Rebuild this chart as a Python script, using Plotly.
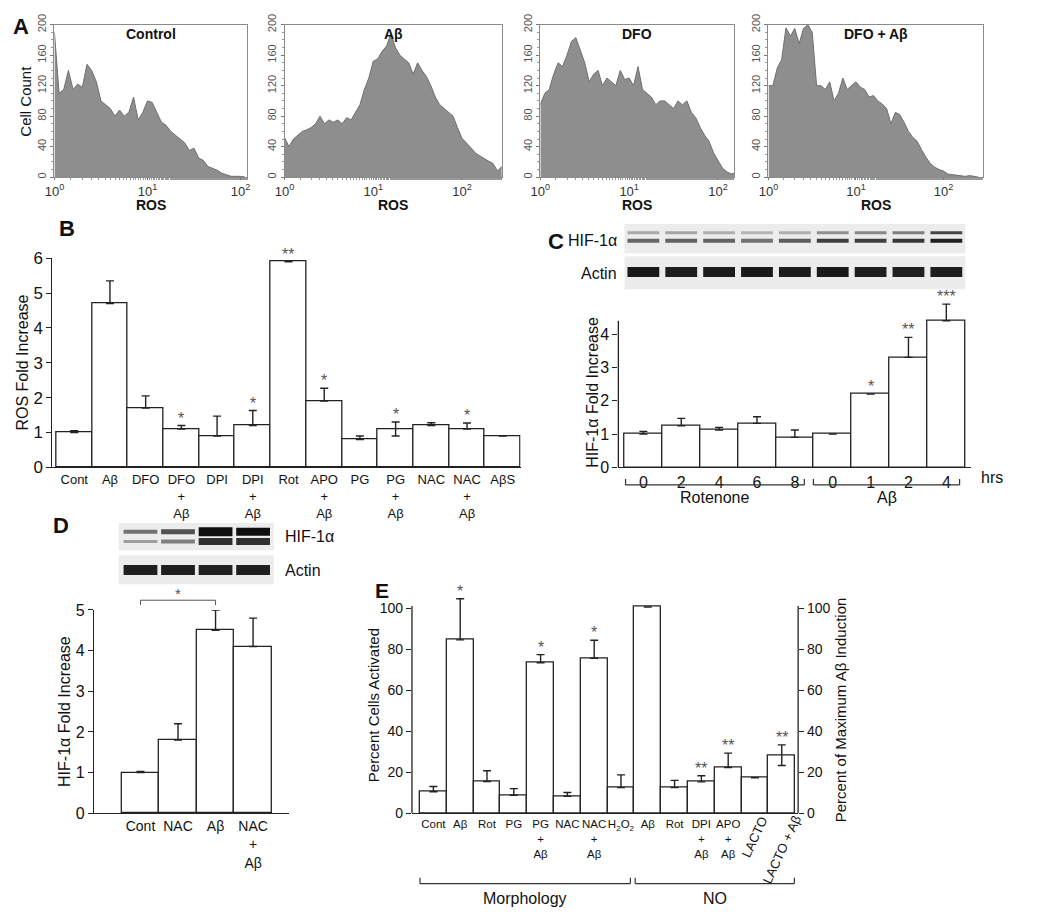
import numpy as np
import plotly.graph_objects as go

# ---------------- DATA ----------------
# Panel A: flow cytometry histograms (cell count per log-channel, channel step 0.05 decade)
A_STEP = 0.05
A_titles = ["Control", "Aβ", "DFO", "DFO + Aβ"]
A_control = [190, 110, 115, 140, 115, 122, 118, 148, 140, 125, 100, 95, 90, 80, 88, 80, 85, 105, 75, 85,
             100, 98, 85, 72, 68, 60, 55, 50, 45, 35, 38, 25, 22, 14, 12, 9, 5, 3, 1, 1, 1, 0]
A_abeta = [52, 40, 50, 55, 60, 62, 65, 70, 80, 70, 75, 72, 75, 70, 78, 75, 85, 95, 115, 130,
           152, 155, 165, 172, 188, 170, 160, 155, 150, 135, 150, 140, 132, 120, 105, 95, 90, 85, 80, 65,
           51, 45, 38, 32, 28, 24, 21, 18, 8, 14]
A_dfo = [95, 110, 115, 135, 150, 145, 160, 178, 183, 165, 150, 125, 135, 140, 120, 130, 125, 120, 140, 128,
         130, 120, 145, 115, 110, 105, 95, 100, 100, 95, 90, 100, 95, 100, 85, 78, 65, 55, 47, 32,
         21, 12, 7, 4, 6]
A_dfo_abeta = [120, 120, 143, 154, 196, 185, 195, 175, 195, 200, 190, 120, 120, 115, 125, 100, 110, 130, 115, 120,
               125, 118, 115, 105, 107, 100, 96, 90, 70, 85, 82, 72, 60, 52, 47, 36, 26, 18, 13, 10,
               8, 4, 3, 2, 2, 1, 2, 1, 0]
A_xmax = [2.07, 2.45, 2.18, 2.45]          # log10 upper limit of each histogram axis
A_yticks = [0, 40, 80, 120, 160, 200]

# Panel B: ROS fold increase
B_labels = ["Cont", "Aβ", "DFO", "DFO<br>+<br>Aβ", "DPI", "DPI<br>+<br>Aβ", "Rot", "APO<br>+<br>Aβ",
            "PG", "PG<br>+<br>Aβ", "NAC", "NAC<br>+<br>Aβ", "AβS"]
B_vals = [1.0, 4.7, 1.7, 1.1, 0.9, 1.2, 5.9, 1.9, 0.8, 1.1, 1.2, 1.1, 0.9]
B_err_up = [0.05, 0.65, 0.35, 0.1, 0.57, 0.43, 0, 0.37, 0.1, 0.2, 0.08, 0.17, 0]
B_err_dn = [0, 0, 0, 0, 0, 0, 0, 0, 0, 0.2, 0, 0, 0]
B_stars = ["", "", "", "*", "", "*", "**", "*", "", "*", "", "*", ""]

# Panel C: HIF-1a fold increase (time course)
C_labels = ["0", "2", "4", "6", "8", "0", "1", "2", "4"]
C_vals = [1.0, 1.25, 1.12, 1.32, 0.9, 1.0, 2.2, 3.3, 4.4]
C_err = [0.08, 0.22, 0.08, 0.2, 0.22, 0, 0, 0.6, 0.5]
C_stars = ["", "", "", "", "", "", "*", "**", "***"]
C_groups = ["Rotenone", "Aβ"]
C_hif_upper = [0.3, 0.32, 0.28, 0.25, 0.28, 0.42, 0.45, 0.5, 0.75]
C_hif_lower = [0.6, 0.62, 0.62, 0.55, 0.65, 0.78, 0.78, 0.82, 0.92]
C_actin = [0.95, 0.93, 0.94, 0.95, 0.94, 0.95, 0.93, 0.92, 0.93]

# Panel D: HIF-1a fold increase with NAC
D_labels = ["Cont", "NAC", "Aβ", "NAC<br>+<br>Aβ"]
D_vals = [1.0, 1.8, 4.5, 4.1]
D_err = [0.03, 0.4, 0.5, 0.7]
D_hif_upper = [0.55, 0.7, 1.0, 1.0]
D_hif_upper_w = [4, 5, 9, 8]
D_hif_lower = [0.35, 0.5, 0.85, 0.85]
D_hif_lower_w = [3, 4, 7, 7]
D_actin = [0.93, 0.93, 0.92, 0.93]

# Panel E: microglial activation
E_labels = ["Cont", "Aβ", "Rot", "PG", "PG<br>+<br>Aβ", "NAC", "NAC<br>+<br>Aβ", "H<sub>2</sub>O<sub>2</sub>",
            "Aβ", "Rot", "DPI<br>+<br>Aβ", "APO<br>+<br>Aβ", "LACTO", "LACTO + Aβ"]
E_vals = [10.5, 84.5, 15.5, 8.8, 73.3, 8.3, 75.5, 12.5, 100.5, 12.5, 15.3, 22.3, 17.3, 28.3]
E_err_up = [2.5, 20, 5.2, 3.2, 4, 1.8, 8.8, 6.2, 0, 3.5, 3, 7, 0, 5]
E_err_dn = [0, 0, 0, 0, 0, 0, 0, 0, 0, 0, 0, 0, 0, 5]
E_stars = ["", "*", "", "", "*", "", "*", "", "", "", "**", "**", "", "**"]
E_groups = ["Morphology", "NO"]

# ---------------- LAYOUT HELPERS ----------------
W, H = 1050, 919
FONT = "Liberation Sans, Arial, sans-serif"


def PX(x):
    return x / W


def PY(y):
    return 1 - y / H


fig = go.Figure()
layout = {}
ann = []
shapes = []


def text(x, y, s, size=15, bold=False, xanchor="center", yanchor="middle", angle=0,
         xref="paper", yref="paper", color="#111", family=FONT):
    if bold:
        s = "<b>" + s + "</b>"
    ann.append(dict(x=x, y=y, text=s, xref=xref, yref=yref, showarrow=False, xanchor=xanchor,
                    yanchor=yanchor, textangle=angle, font=dict(size=size, color=color, family=family)))


def bar_axes(n, xpx, ypx, xr, yr, yticks, labels, tickfont_size, ytick_size, yline_top=None):
    """ypx = (pixel of top of domain, pixel of bottom). yline_top: data value where y-axis line stops."""
    layout[f"xaxis{n}"] = dict(domain=[PX(xpx[0]), PX(xpx[1])], anchor=f"y{n}", range=xr,
                               tickvals=list(range(len(labels))), ticktext=labels, tickangle=0, showline=True,
                               linecolor="#222", linewidth=1.3, ticks="", showgrid=False, zeroline=False,
                               tickfont=dict(family=FONT, size=tickfont_size, color="#111"), fixedrange=True)
    layout[f"yaxis{n}"] = dict(domain=[PY(ypx[1]), PY(ypx[0])], anchor=f"x{n}", range=yr, tickvals=yticks,
                               showline=yline_top is None, linecolor="#222", linewidth=1.3, ticks="outside",
                               ticklen=5, tickcolor="#222", showgrid=False, zeroline=False,
                               tickfont=dict(family=FONT, size=ytick_size, color="#111"), fixedrange=True)
    if yline_top is not None:
        shapes.append(dict(type="line", xref=f"x{n} domain", yref=f"y{n}", x0=0, x1=0, y0=0, y1=yline_top,
                           line=dict(color="#222", width=1.3)))


def add_bars(n, vals, up, dn):
    fig.add_trace(go.Bar(x=list(range(len(vals))), y=vals, width=1.0, xaxis=f"x{n}", yaxis=f"y{n}",
                         marker=dict(color="white", line=dict(color="#222", width=1.3)),
                         error_y=dict(type="data", symmetric=False, array=up, arrayminus=dn,
                                      color="#222", thickness=1.4, width=4),
                         cliponaxis=False, showlegend=False, hoverinfo="skip"))


def add_stars(n, vals, up, stars, size=16):
    for i, s in enumerate(stars):
        if s:
            ann.append(dict(x=i, y=vals[i] + up[i], xref=f"x{n}", yref=f"y{n}", text=s, showarrow=False,
                            yanchor="bottom", yshift=-3, font=dict(size=size, color="#555", family=FONT)))


def add_blot(n, lanes, bands, half=0.4):
    for y, inten, widths in bands:
        for i, v in enumerate(inten):
            fig.add_trace(go.Scatter(x=[lanes[i] - half, lanes[i] + half], y=[y, y], mode="lines",
                                     line=dict(color=f"rgba(15,15,15,{v})", width=widths[i]),
                                     xaxis=f"x{n}", yaxis=f"y{n}", showlegend=False, hoverinfo="skip"))


def bracket(xref, x0, x1, ypx, tick=6):
    shapes.append(dict(type="line", xref=xref, yref="paper", x0=x0, x1=x1, y0=PY(ypx), y1=PY(ypx),
                       line=dict(color="#333", width=1.2)))
    for xx in (x0, x1):
        shapes.append(dict(type="line", xref=xref, yref="paper", x0=xx, x1=xx, y0=PY(ypx), y1=PY(ypx - tick),
                           line=dict(color="#333", width=1.2)))


# ---------------- PANEL A ----------------
A_data = [A_control, A_abeta, A_dfo, A_dfo_abeta]
A_xpx = [(45, 240), (278, 498), (537, 733), (768, 985)]
for k in range(4):
    n = k + 1
    counts = A_data[k]
    xs = 10 ** (np.arange(len(counts)) * A_STEP)
    fig.add_trace(go.Scatter(x=xs, y=counts, mode="lines", fill="tozeroy", fillcolor="#8e8e8e",
                             line=dict(color="#6f6f6f", width=1), xaxis=f"x{n}", yaxis=f"y{n}",
                             showlegend=False, hoverinfo="skip"))
    layout[f"xaxis{n}"] = dict(domain=[PX(A_xpx[k][0]), PX(A_xpx[k][1])], anchor=f"y{n}", type="log",
                               range=[0, A_xmax[k]], tickvals=[1, 10, 100],
                               ticktext=["10<sup>0</sup>", "10<sup>1</sup>", "10<sup>2</sup>"],
                               showline=True, mirror=True, linecolor="#8a8a8a", linewidth=1,
                               ticks="outside", ticklen=2, tickcolor="#777",
                               minor=dict(ticks="outside", ticklen=2, tickcolor="#999", showgrid=False),
                               showgrid=False, zeroline=False,
                               tickfont=dict(family=FONT, size=13, color="#333"), fixedrange=True)
    layout[f"yaxis{n}"] = dict(domain=[PY(170), PY(14)], anchor=f"x{n}", range=[0, 200], tickvals=A_yticks,
                               tickangle=-90, showline=True, mirror=True, linecolor="#8a8a8a", linewidth=1,
                               ticks="outside", ticklen=3, tickcolor="#777",
                               minor=dict(dtick=10, ticks="outside", ticklen=2, tickcolor="#999", showgrid=False),
                               showgrid=False, zeroline=False,
                               tickfont=dict(family=FONT, size=11, color="#555"), fixedrange=True)
    cx = (A_xpx[k][0] + A_xpx[k][1]) / 2
    text(PX(cx), PY(24), A_titles[k], size=14, bold=True)
    text(PX(cx), PY(199), "ROS", size=14, bold=True)
text(PX(11), PY(16), "A", size=22, bold=True)
text(PX(16), PY(92), "Cell Count", size=15, angle=-90)

# ---------------- PANEL B ----------------
bar_axes(5, (43, 517), (253, 467), [-0.61, 12.5], [0, 6], [0, 1, 2, 3, 4, 5, 6], B_labels, 13, 17)
add_bars(5, B_vals, B_err_up, B_err_dn)
add_stars(5, B_vals, B_err_up, B_stars)
text(PX(58), PY(223), "B", size=22, bold=True)
text(PX(13), PY(360), "ROS Fold Increase", size=16, angle=-90)

# ---------------- PANEL C ----------------
C_xr = [-0.66, 8.65]
C_ytop = 5.0
C_unit = 150 / 4.4
layout["xaxis6"] = dict(domain=[PX(616), PX(973)], anchor="y6", range=C_xr, visible=False, fixedrange=True)
layout["yaxis6"] = dict(domain=[PY(285), PY(218)], anchor="x6", range=[0, 1], visible=False, fixedrange=True)
shapes.append(dict(type="rect", xref="x6", yref="y6", x0=-0.5, x1=8.5, y0=0.552, y1=1.0,
                   fillcolor="#ececec", line=dict(width=0), layer="below"))
shapes.append(dict(type="rect", xref="x6", yref="y6", x0=-0.5, x1=8.5, y0=0.0, y1=0.507,
                   fillcolor="#ececec", line=dict(width=0), layer="below"))
lanesC = list(range(len(C_vals)))
add_blot(6, lanesC, [(0.866, C_hif_upper, [3] * 9), (0.746, C_hif_lower, [4] * 9),
                     (0.269, C_actin, [10] * 9)], half=0.42)
bar_axes(7, (616, 973), (467 - C_ytop * C_unit, 467), C_xr, [0, C_ytop], [0, 1, 2, 3, 4], C_labels, 16, 16,
         yline_top=4.4)
add_bars(7, C_vals, C_err, [0] * len(C_vals))
add_stars(7, C_vals, C_err, C_stars)
text(PX(553), PY(236), "C", size=22, bold=True)
text(PX(617), PY(235), "HIF-1α", size=16, xanchor="right")
text(PX(617), PY(269), "Actin", size=16, xanchor="right")
text(PX(981), PY(477), "hrs", size=16, xanchor="left")
text(PX(589), PY(390), "HIF-1α Fold Increase", size=16, angle=-90)
bracket("x7", -0.47, 4.25, 485)
bracket("x7", 4.49, 8.35, 485)
text((-0.47 + 4.25) / 2, PY(498), C_groups[0], size=16, xref="x7")
text((4.49 + 8.35) / 2, PY(498), C_groups[1], size=16, xref="x7")

# ---------------- PANEL D ----------------
D_xr = [-1.24, 3.97]
layout["xaxis8"] = dict(domain=[PX(85), PX(283)], anchor="y8", range=D_xr, visible=False, fixedrange=True)
layout["yaxis8"] = dict(domain=[PY(587), PY(524)], anchor="x8", range=[0, 1], visible=False, fixedrange=True)
shapes.append(dict(type="rect", xref="x8", yref="y8", x0=-0.58, x1=3.55, y0=0.556, y1=1.0,
                   fillcolor="#ececec", line=dict(width=0), layer="below"))
shapes.append(dict(type="rect", xref="x8", yref="y8", x0=-0.58, x1=3.55, y0=0.0, y1=0.476,
                   fillcolor="#ececec", line=dict(width=0), layer="below"))
lanesD = list(range(len(D_vals)))
add_blot(8, lanesD, [(0.857, D_hif_upper, D_hif_upper_w), (0.698, D_hif_lower, D_hif_lower_w),
                     (0.238, D_actin, [10] * 4)], half=0.45)
bar_axes(9, (85, 283), (613, 821), D_xr, [0, 5], [0, 1, 2, 3, 4, 5], D_labels, 14, 16)
add_bars(9, D_vals, D_err, [0] * len(D_vals))
text(PX(52), PY(527), "D", size=22, bold=True)
text(PX(276), PY(538), "HIF-1α", size=16, xanchor="left")
text(PX(276), PY(573), "Actin", size=16, xanchor="left")
text(PX(55), PY(717), "HIF-1α Fold Increase", size=16, angle=-90)
shapes.append(dict(type="line", xref="x9", yref="paper", x0=0, x1=2, y0=PY(603), y1=PY(603),
                   line=dict(color="#555", width=1)))
for xx in (0, 2):
    shapes.append(dict(type="line", xref="x9", yref="paper", x0=xx, x1=xx, y0=PY(603), y1=PY(608),
                       line=dict(color="#555", width=1)))
text(1, PY(596), "*", size=15, xref="x9", color="#555")

# ---------------- PANEL E ----------------
E_xr = [-0.8, 13.61]
E_ytop = 108
E_unit = 2.1
E_top_px = 821 - E_ytop * E_unit
E_ticktext = [t if i < 12 else "" for i, t in enumerate(E_labels)]
bar_axes(10, (407, 798), (E_top_px, 821), E_xr, [0, E_ytop], [0, 20, 40, 60, 80, 100], E_ticktext, 11.5, 14,
         yline_top=101)
layout["yaxis11"] = dict(domain=[PY(821), PY(E_top_px)], anchor="x10", overlaying="y10", side="right",
                         range=[0, E_ytop], tickvals=[0, 20, 40, 60, 80, 100], showline=False,
                         ticks="outside", ticklen=5, tickcolor="#222", showgrid=False,
                         zeroline=False, tickfont=dict(family=FONT, size=14, color="#111"), fixedrange=True)
shapes.append(dict(type="line", xref="x10 domain", yref="y10", x0=1, x1=1, y0=0, y1=101,
                   line=dict(color="#222", width=1.3)))
add_bars(10, E_vals, E_err_up, E_err_dn)
# invisible trace so that the right-hand axis (same scale) is drawn
fig.add_trace(go.Scatter(x=[0], y=[0], mode="markers", marker=dict(opacity=0), xaxis="x10", yaxis="y11",
                         showlegend=False, hoverinfo="skip"))
add_stars(10, E_vals, E_err_up, E_stars)
text(12, PY(845), E_labels[12], size=13, xref="x10", angle=-65)
text(13, PY(858), E_labels[13], size=13, xref="x10", angle=-65)
text(PX(377), PY(593), "E", size=21, bold=True)
text(PX(368), PY(710), "Percent Cells Activated", size=15, angle=-90)
text(PX(841), PY(715), "Percent of Maximum Aβ Induction", size=15, angle=-90)
bracket("x10", -0.5, 7.35, 893)
bracket("x10", 7.53, 13.47, 893)
text((-0.5 + 7.35) / 2, PY(908), E_groups[0], size=16, xref="x10")
text((7.53 + 13.47) / 2, PY(908), E_groups[1], size=16, xref="x10")

layout.update(dict(width=W, height=H, autosize=False, margin=dict(l=0, r=0, t=0, b=0),
                   paper_bgcolor="white", plot_bgcolor="rgba(0,0,0,0)", annotations=ann, shapes=shapes,
                   showlegend=False, bargap=0, font=dict(family=FONT, color="#111")))
fig.update_layout(**layout)
fig.write_html("out.html", config={"displayModeBar": False},
               post_script="document.body.style.margin='0';document.body.style.overflow='hidden';")
